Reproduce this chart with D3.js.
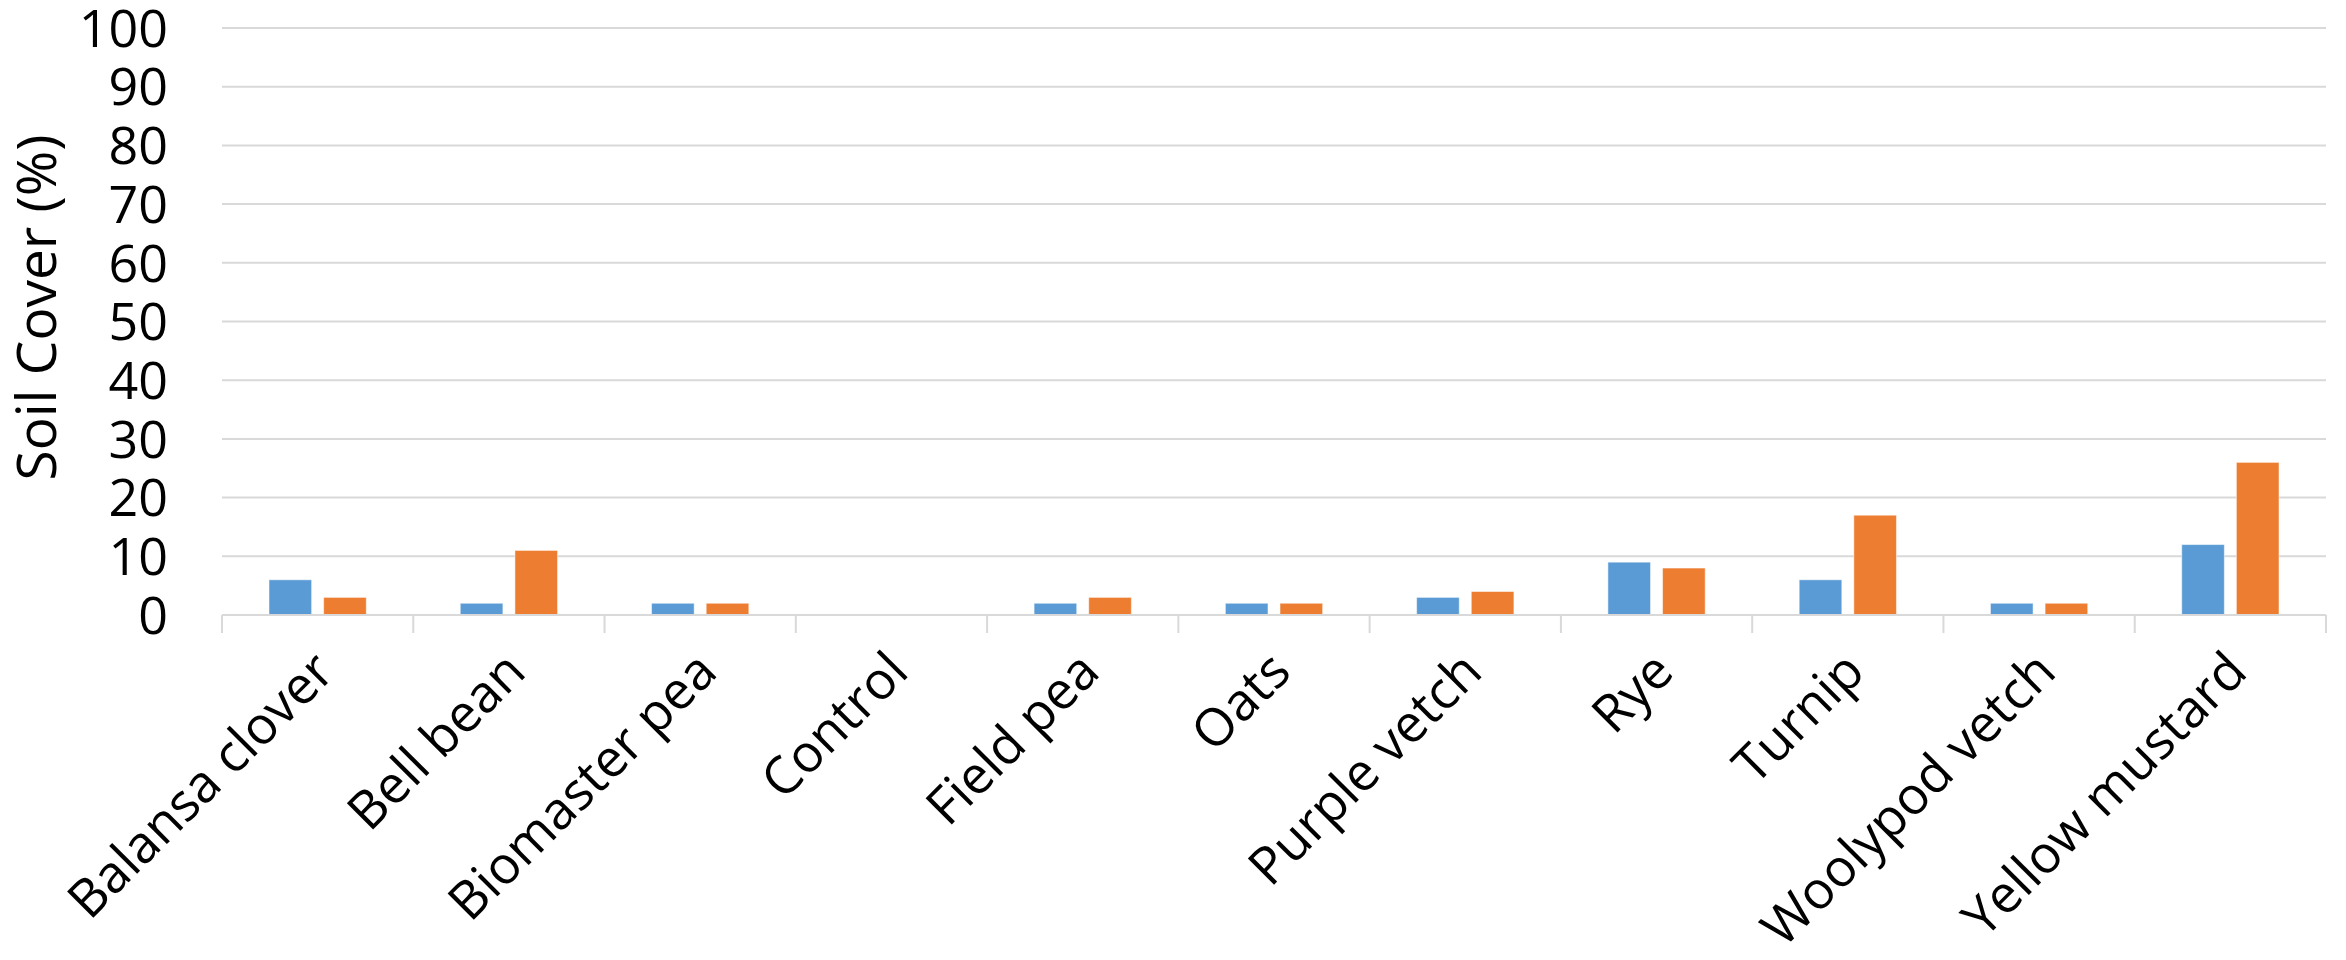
<!DOCTYPE html>
<html>
<head>
<meta charset="utf-8">
<script src="https://cdn.jsdelivr.net/npm/d3@7"></script>
<style>
  body { margin: 0; background: #fff; }
  text { font-family: "Open Sans", "Noto Sans", sans-serif; fill: #000; }
</style>
</head>
<body>
<div id="chart"></div>
<script>
const categories = ['Balansa clover', 'Bell bean', 'Biomaster pea', 'Control', 'Field pea',
  'Oats', 'Purple vetch', 'Rye', 'Turnip', 'Woolypod vetch', 'Yellow mustard'];
const seriesNames = ['Series 1', 'Series 2'];
const series1 = [6, 2, 2, 0, 2, 2, 3, 9, 6, 2, 12];
const series2 = [3, 11, 2, 0, 3, 2, 4, 8, 17, 2, 26];
const yTicks = [0, 10, 20, 30, 40, 50, 60, 70, 80, 90, 100];
const colors = ['#5B9BD5', '#ED7D31'];

let margin = { top: 28, right: 20, bottom: 345, left: 222 };
let width = 2346, height = 960;
let innerW = width - margin.left - margin.right;
let innerH = height - margin.top - margin.bottom;

let svg = d3.select('#chart')
  .append('svg')
  .attr('width', width)
  .attr('height', height);

let g = svg.append('g')
  .attr('transform', 'translate(' + margin.left + ',' + margin.top + ')');

let x0 = d3.scaleBand().domain(categories).range([0, innerW]).padding(0);
let y = d3.scaleLinear().domain([0, 100]).range([innerH, 0]);
let outer = 47;
let x1 = d3.scaleBand().domain(seriesNames)
  .range([outer, x0.bandwidth() - outer])
  .paddingInner(0.22);

// gridlines
g.selectAll('.grid').data(yTicks.filter(d => d > 0))
  .enter().append('line')
    .attr('class', 'grid')
    .attr('x1', 0).attr('x2', innerW)
    .attr('y1', d => y(d)).attr('y2', d => y(d))
    .attr('stroke', '#d9d9d9')
    .attr('stroke-width', 2);

// y tick labels
g.selectAll('.ylab').data(yTicks)
  .enter().append('text')
    .attr('class', 'ylab')
    .attr('x', -54)
    .attr('y', d => y(d))
    .attr('dy', '0.36em')
    .attr('text-anchor', 'end')
    .style('font-size', '52px')
    .text(d => d);

// y title
svg.append('text')
  .attr('transform', 'translate(56,' + (margin.top + innerH / 2 - 14) + ') rotate(-90)')
  .attr('text-anchor', 'middle')
  .style('font-size', '55px')
  .text('Soil Cover (%)');

// bars
const rows = categories.map((c, i) => ({ cat: c, vals: [series1[i], series2[i]] }));
let groups = g.selectAll('.cat').data(rows)
  .enter().append('g')
    .attr('class', 'cat')
    .attr('transform', d => 'translate(' + x0(d.cat) + ',0)');

groups.selectAll('rect')
  .data(d => d.vals.map((v, k) => ({ name: seriesNames[k], v: v, k: k })))
  .enter().append('rect')
    .attr('x', d => x1(d.name))
    .attr('y', d => y(d.v))
    .attr('width', x1.bandwidth())
    .attr('height', d => innerH - y(d.v))
    .attr('fill', d => colors[d.k])
    .attr('stroke', d => d.v > 0 ? 'rgba(255,255,255,0.5)' : 'none')
    .attr('stroke-width', 1);

// x axis line + ticks
g.append('line')
  .attr('x1', 0).attr('x2', innerW)
  .attr('y1', innerH).attr('y2', innerH)
  .attr('stroke', '#d9d9d9').attr('stroke-width', 2);

let tickPos = categories.map(c => x0(c)).concat([innerW]);
g.selectAll('.xtick').data(tickPos)
  .enter().append('line')
    .attr('x1', d => d).attr('x2', d => d)
    .attr('y1', innerH).attr('y2', innerH + 18)
    .attr('stroke', '#d9d9d9').attr('stroke-width', 2);

// x labels
g.selectAll('.xlab').data(categories)
  .enter().append('text')
    .attr('class', 'xlab')
    .attr('text-anchor', 'end')
    .attr('transform', d => 'translate(' + (x0(d) + x0.bandwidth() / 2 + 6) + ',' + (innerH + 46) + ') rotate(-45)')
    .attr('dy', '0.36em')
    .style('font-size', '52px')
    .text(d => d);
</script>
</body>
</html>
